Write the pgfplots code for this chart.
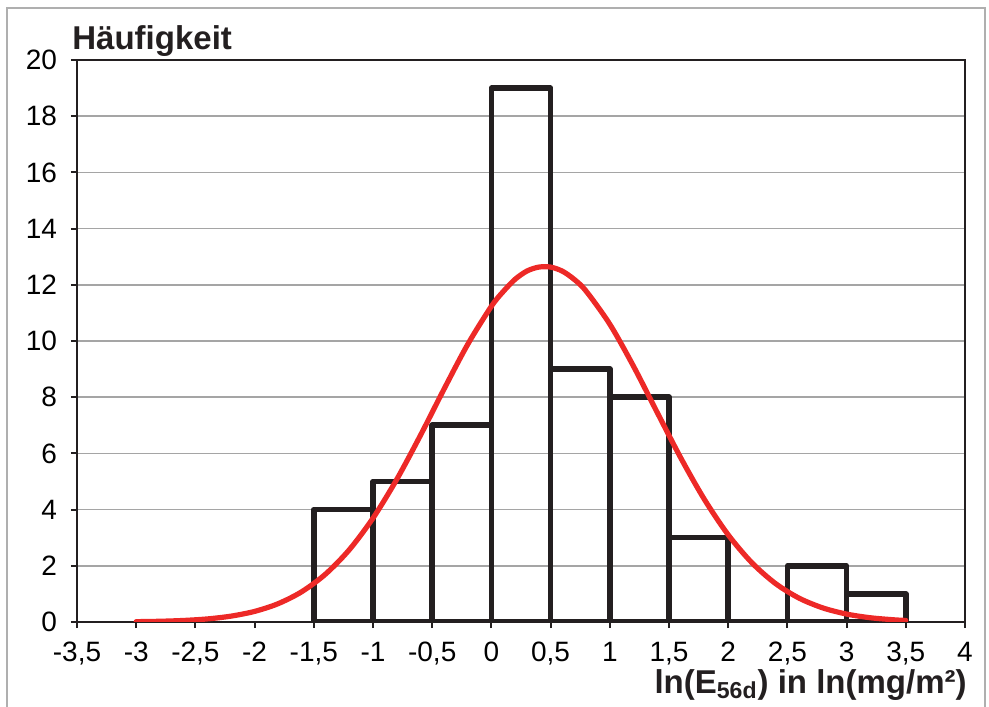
\documentclass[border=0pt]{standalone}
\usepackage{fontspec}
\setmainfont{Liberation Sans}
\usepackage{pgfplots}
\pgfplotsset{compat=1.18}
\definecolor{barc}{RGB}{35,31,32}
\definecolor{redc}{RGB}{237,41,39}
\definecolor{gridc}{RGB}{165,165,165}
\definecolor{framec}{RGB}{175,175,175}
\begin{document}
\begin{tikzpicture}
\useasboundingbox (0,0) rectangle (494.5pt,353pt);
\draw[framec, line width=1pt] (3.5pt,-5pt) -- (3.5pt,349pt) -- (492.5pt,349pt) -- (492.5pt,-5pt);
\begin{axis}[
  at={(38.5pt,42pt)}, anchor=south west, scale only axis,
  width=444pt, height=281pt,
  xmin=-3.5, xmax=4, ymin=0, ymax=20,
  xtick={-3.5,-3,-2.5,-2,-1.5,-1,-0.5,0,0.5,1,1.5,2,2.5,3,3.5,4},
  ytick={0,2,4,6,8,10,12,14,16,18,20},
  ymajorgrids, grid style={gridc, line width=0.8pt},
  axis line style={barc, line width=1pt},
  tick style={barc, line width=1pt},
  major tick length=3pt, tick align=outside, tick pos=left,
  ticklabel style={font=\fontsize{14}{16}\selectfont},
  xticklabel style={yshift=-3.5pt},
  yticklabel style={xshift=-3.5pt},
  /pgf/number format/.cd, use comma, 1000 sep={}, assume math mode=true,
]
\addplot[ybar interval, draw=barc, line width=2.8pt, line join=round, fill=none] coordinates {
(-1.5,4) (-1,5) (-0.5,7) (0,19) (0.5,9) (1,8) (1.5,3) (2,0) (2.5,2) (3,1) (3.5,1)
};
\addplot[redc, line width=2.6pt, line cap=round, smooth] coordinates {
(-3.0,0.012) (-2.8,0.026) (-2.6,0.055) (-2.4,0.109) (-2.2,0.208) (-2.0,0.377)
(-1.8,0.654) (-1.6,1.082) (-1.4,1.708) (-1.2,2.572) (-1.0,3.697) (-0.8,5.070)
(-0.6,6.636) (-0.4,8.289) (-0.2,9.880) (0.0,11.236) (0.1,11.76) (0.2,12.196) (0.3,12.49)
(0.4,12.63) (0.5,12.63) (0.6,12.484) (0.7,12.19) (0.8,11.775) (1.0,10.598) (1.2,9.103) (1.4,7.460) (1.6,5.835)
(1.8,4.355) (2.0,3.102) (2.2,2.108) (2.4,1.367) (2.6,0.846) (2.8,0.500)
(3.0,0.282) (3.2,0.151) (3.4,0.078) (3.5,0.055)
};
\end{axis}
\node[anchor=base west, font=\bfseries\fontsize{16.5}{19}\selectfont, text=barc, inner sep=0pt] at (36pt,328pt) {Häufigkeit};
\node[anchor=base east, font=\bfseries\fontsize{16.5}{19}\selectfont, text=barc, inner sep=0pt] at (483.5pt,6.5pt) {ln(E\textsubscript{56d}) in ln(mg/m²)};
\end{tikzpicture}
\end{document}
